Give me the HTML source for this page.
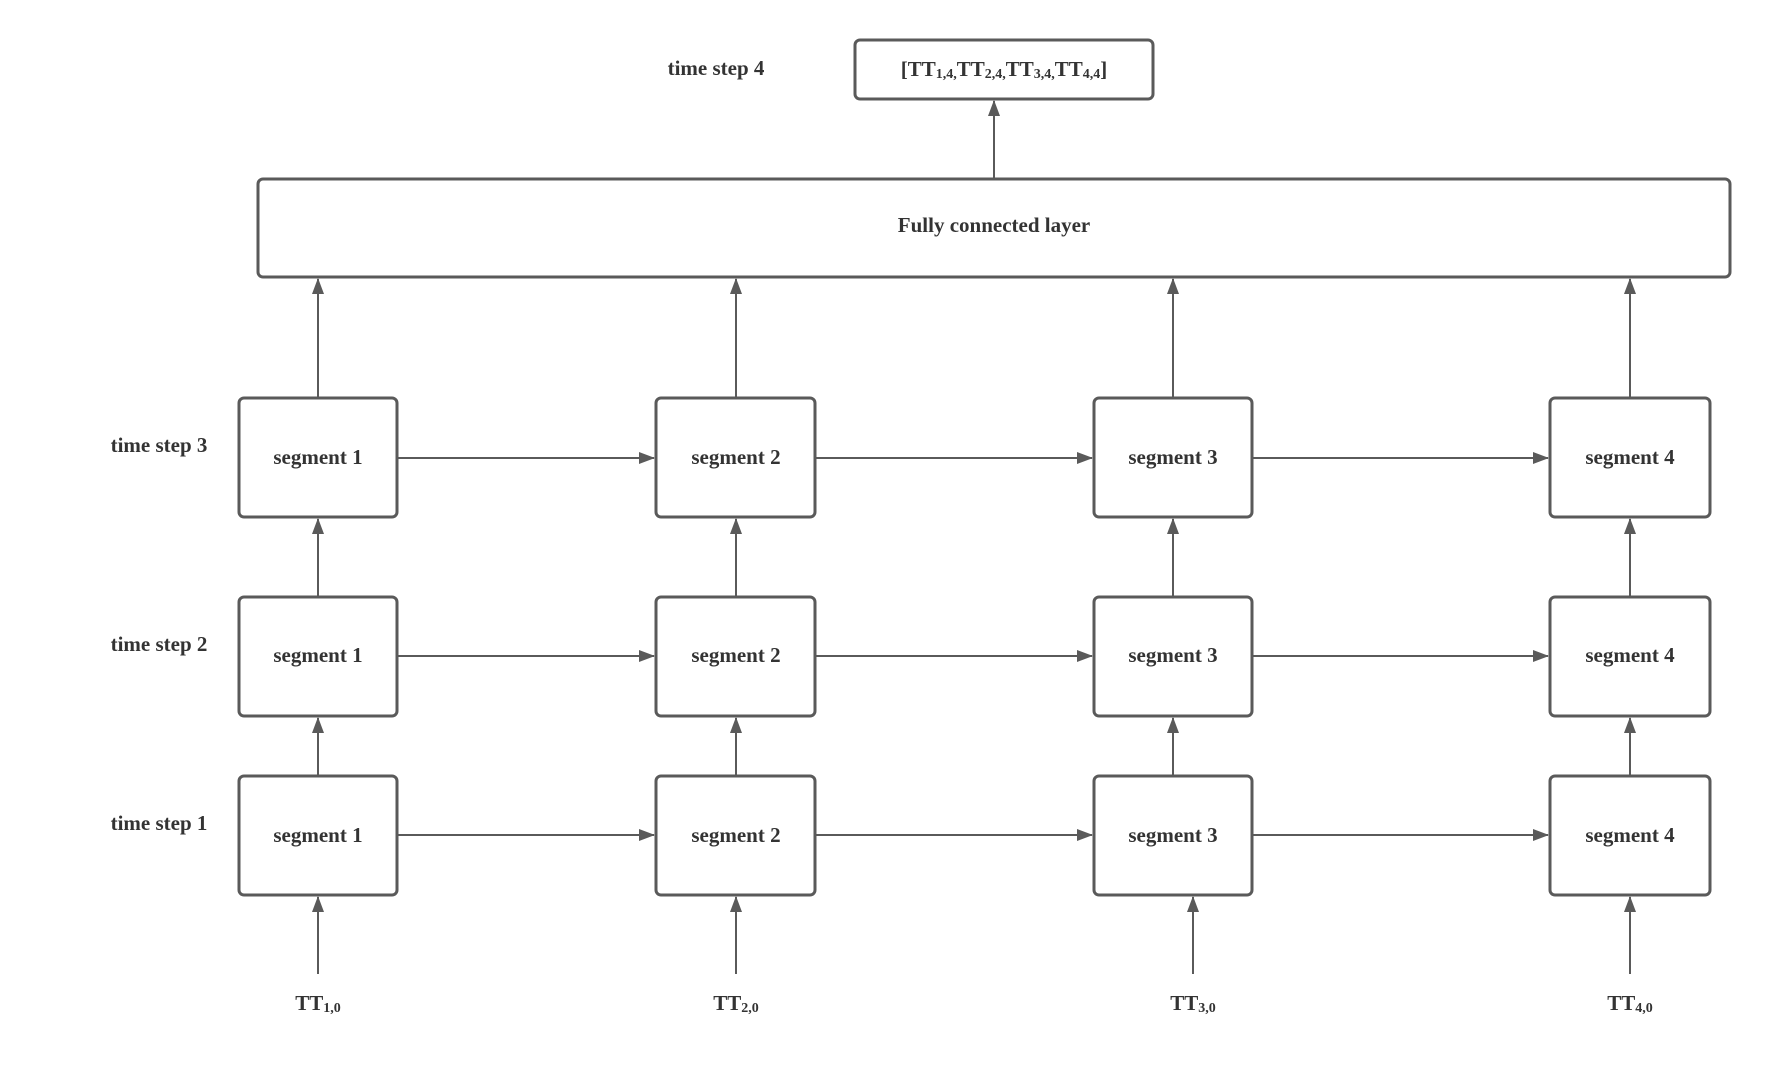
<!DOCTYPE html>
<html><head><meta charset="utf-8"><style>
html,body{margin:0;padding:0;background:#fff;}
svg{display:block;}
text{font-family:"Liberation Serif",serif;font-weight:bold;fill:#333;font-size:21px;}
</style></head><body>
<svg width="1790" height="1074" viewBox="0 0 1790 1074" xmlns="http://www.w3.org/2000/svg">
<defs>
<marker id="a" markerWidth="16" markerHeight="12" refX="15" refY="6" orient="auto" markerUnits="userSpaceOnUse">
<path d="M0,0 L16,6 L0,12 Z" fill="#5a5a5a"/>
</marker>
</defs>
<g fill="none" stroke="#5a5a5a" stroke-width="3">
<rect x="855" y="40" width="298" height="59" rx="5"/>
<rect x="258" y="179" width="1472" height="98" rx="5"/>
<rect x="239" y="398" width="158" height="119" rx="5"/>
<rect x="656" y="398" width="159" height="119" rx="5"/>
<rect x="1094" y="398" width="158" height="119" rx="5"/>
<rect x="1550" y="398" width="160" height="119" rx="5"/>
<rect x="239" y="597" width="158" height="119" rx="5"/>
<rect x="656" y="597" width="159" height="119" rx="5"/>
<rect x="1094" y="597" width="158" height="119" rx="5"/>
<rect x="1550" y="597" width="160" height="119" rx="5"/>
<rect x="239" y="776" width="158" height="119" rx="5"/>
<rect x="656" y="776" width="159" height="119" rx="5"/>
<rect x="1094" y="776" width="158" height="119" rx="5"/>
<rect x="1550" y="776" width="160" height="119" rx="5"/>
</g>
<g stroke="#5a5a5a" stroke-width="2" marker-end="url(#a)">
<line x1="994" y1="178" x2="994" y2="101"/>
<line x1="318" y1="397" x2="318" y2="279"/>
<line x1="736" y1="397" x2="736" y2="279"/>
<line x1="1173" y1="397" x2="1173" y2="279"/>
<line x1="1630" y1="397" x2="1630" y2="279"/>
<line x1="318" y1="596" x2="318" y2="519"/>
<line x1="736" y1="596" x2="736" y2="519"/>
<line x1="1173" y1="596" x2="1173" y2="519"/>
<line x1="1630" y1="596" x2="1630" y2="519"/>
<line x1="318" y1="775" x2="318" y2="718"/>
<line x1="736" y1="775" x2="736" y2="718"/>
<line x1="1173" y1="775" x2="1173" y2="718"/>
<line x1="1630" y1="775" x2="1630" y2="718"/>
<line x1="318" y1="974" x2="318" y2="897"/>
<line x1="736" y1="974" x2="736" y2="897"/>
<line x1="1193" y1="974" x2="1193" y2="897"/>
<line x1="1630" y1="974" x2="1630" y2="897"/>
<line x1="398" y1="458" x2="654" y2="458"/>
<line x1="816" y1="458" x2="1092" y2="458"/>
<line x1="1253" y1="458" x2="1548" y2="458"/>
<line x1="398" y1="656" x2="654" y2="656"/>
<line x1="816" y1="656" x2="1092" y2="656"/>
<line x1="1253" y1="656" x2="1548" y2="656"/>
<line x1="398" y1="835" x2="654" y2="835"/>
<line x1="816" y1="835" x2="1092" y2="835"/>
<line x1="1253" y1="835" x2="1548" y2="835"/>
</g>
<g text-anchor="middle" dominant-baseline="central">
<text x="716" y="68">time step 4</text>
<text x="1004" y="69">[TT<tspan font-size="14" dy="5">1,4,</tspan><tspan dy="-5">TT</tspan><tspan font-size="14" dy="5">2,4,</tspan><tspan dy="-5">TT</tspan><tspan font-size="14" dy="5">3,4,</tspan><tspan dy="-5">TT</tspan><tspan font-size="14" dy="5">4,4</tspan><tspan dy="-5">]</tspan></text>
<text x="994" y="225">Fully connected layer</text>
<text x="159" y="445">time step 3</text>
<text x="159" y="644">time step 2</text>
<text x="159" y="823">time step 1</text>
<text x="318" y="457">segment 1</text>
<text x="736" y="457">segment 2</text>
<text x="1173" y="457">segment 3</text>
<text x="1630" y="457">segment 4</text>
<text x="318" y="655">segment 1</text>
<text x="736" y="655">segment 2</text>
<text x="1173" y="655">segment 3</text>
<text x="1630" y="655">segment 4</text>
<text x="318" y="835">segment 1</text>
<text x="736" y="835">segment 2</text>
<text x="1173" y="835">segment 3</text>
<text x="1630" y="835">segment 4</text>
<text x="318" y="1003">TT<tspan font-size="14" dy="5">1,0</tspan></text>
<text x="736" y="1003">TT<tspan font-size="14" dy="5">2,0</tspan></text>
<text x="1193" y="1003">TT<tspan font-size="14" dy="5">3,0</tspan></text>
<text x="1630" y="1003">TT<tspan font-size="14" dy="5">4,0</tspan></text>
</g>
</svg>
</body></html>
